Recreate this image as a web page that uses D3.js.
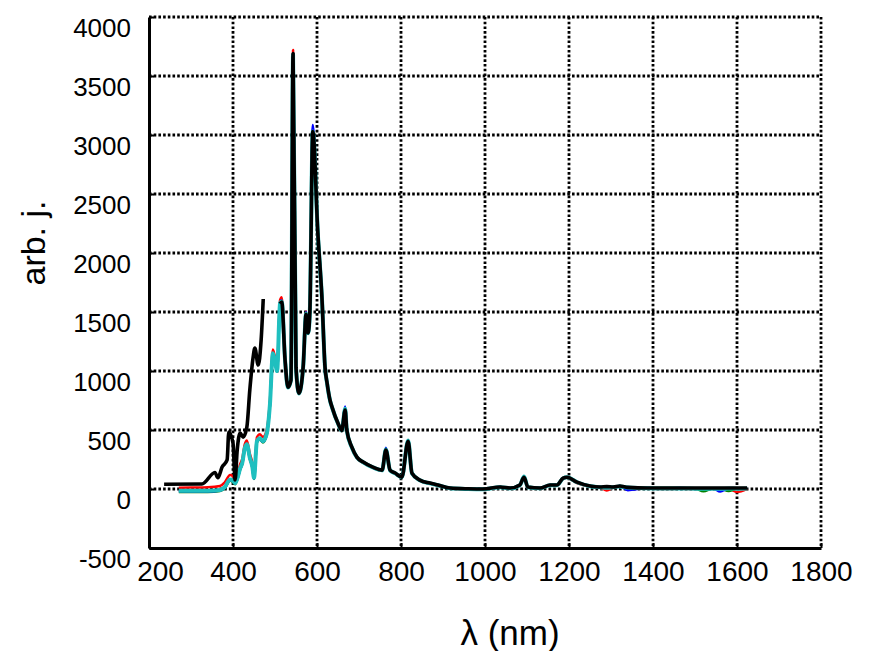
<!DOCTYPE html>
<html>
<head>
<meta charset="utf-8">
<script src="https://cdn.jsdelivr.net/npm/d3@7"></script>
<style>
  body { margin: 0; background: #fff; }
  text { font-family: "Liberation Sans", Arial, sans-serif; fill: #000; }
</style>
</head>
<body>
<svg width="869" height="651"></svg>
<script>
// wavelength grid (nm) shared by the four coloured spectra
const lamB = [271, 300, 340, 369, 380, 393, 400, 405, 412, 417,
              422, 428, 433, 440, 446, 450, 457, 464, 471, 480,
              488, 495, 500, 505, 512, 516, 524, 531, 538, 543,
              550, 557, 567, 574, 579, 583, 590, 602, 612, 619,
              624, 631, 636, 650, 659, 667, 671, 683, 695, 710,
              733, 755, 764, 774, 786, 802, 817, 826, 845, 869,
              888, 917, 960, 995, 1036, 1060, 1083, 1093, 1102, 1131,
              1155, 1171, 1186, 1195, 1219, 1250, 1274, 1290, 1305, 1321,
              1340, 1386, 1430, 1464, 1500, 1520, 1543, 1560, 1580, 1600,
              1624];

const redVals = [10, 12, 15, 25, 55, 118, 108, 85, 145, 210,
                 255, 378, 412, 300, 222, 130, 438, 465, 440, 498,
                 752, 1182, 1115, 1030, 1600, 1625, 1090, 860, 920, 3720,
                 1030, 810, 1030, 1505, 1320, 1510, 3050, 2165, 1600, 1030,
                 890, 745, 685, 550, 490, 675, 490, 348, 262, 222,
                 180, 155, 330, 155, 130, 98, 405, 130, 72, 46,
                 30, 5, -5, -5, 12, 5, 30, 100, 12, 5,
                 30, 30, 85, 95, 50, 20, 12, -12, 12, 20,
                 10, 5, 0, 2, 0, 0, 0, -2, 0, -25,
                 2];

const greenVals = [-25, -25, -25, -18, 5, 70, 60, 40, 100, 165,
                   210, 335, 370, 255, 180, 85, 395, 420, 395, 455,
                   710, 1140, 1080, 995, 1565, 1585, 1095, 865, 925, 3680,
                   1040, 815, 1035, 1480, 1325, 1505, 3020, 2200, 1620, 1045,
                   900, 755, 695, 560, 500, 685, 500, 356, 272, 230,
                   186, 161, 335, 161, 136, 102, 410, 136, 76, 50,
                   34, 8, 0, 0, 17, 8, 34, 105, 17, 8,
                   34, 34, 92, 100, 58, 25, 17, 17, 17, 25,
                   14, 8, 8, 8, 5, -20, 5, 5, -18, 5,
                   5];

const blueVals = [-18, -20, -20, -12, 10, 75, 65, 45, 105, 170,
                  215, 340, 375, 260, 185, 90, 400, 425, 400, 460,
                  715, 1145, 1082, 998, 1570, 1600, 1092, 862, 922, 3690,
                  1035, 812, 1032, 1500, 1322, 1510, 3085, 2170, 1605, 1038,
                  898, 752, 692, 557, 497, 700, 497, 354, 270, 228,
                  185, 160, 350, 160, 135, 101, 412, 135, 75, 50,
                  34, 8, 2, 0, 17, 8, 34, 104, 17, 8,
                  34, 34, 92, 100, 58, 25, 17, 17, 17, 25,
                  -10, 8, 6, 8, 6, 6, 6, -22, 6, 6,
                  6];

const cyanVals = [-15, -15, -14, -8, 15, 80, 70, 50, 110, 175,
                  220, 345, 380, 265, 190, 95, 405, 430, 405, 465,
                  720, 1150, 1085, 1000, 1575, 1590, 1090, 860, 920, 3680,
                  1030, 810, 1030, 1485, 1320, 1510, 3030, 2165, 1600, 1035,
                  895, 750, 690, 555, 495, 680, 495, 352, 268, 226,
                  183, 158, 335, 158, 133, 100, 410, 133, 74, 48,
                  32, 6, 0, -2, 15, 6, 32, 106, 15, 6,
                  32, 32, 90, 100, 57, 23, 15, 10, 15, 22,
                  12, 6, 4, 5, 3, 2, 3, 2, 4, 3,
                  5];

// black spectrum: UV part, then a gap (null), then the long part
const lamK = [236, 326, 357, 364, 374, 386, 390, 400, 405, 410,
              417, 424, 433, 440, 448, 452, 460, 467, 472, 492,
              512, 516, 524, 531, 538, 543, 550, 557, 567, 574,
              579, 583, 590, 602, 612, 619, 624, 631, 636, 650,
              659, 667, 671, 683, 695, 710, 733, 755, 764, 774,
              786, 802, 817, 826, 845, 869, 888, 917, 960, 995,
              1036, 1060, 1083, 1093, 1102, 1131, 1155, 1171, 1186, 1195,
              1219, 1250, 1274, 1290, 1305, 1321, 1340, 1386, 1430, 1464,
              1500, 1520, 1543, 1560, 1580, 1600, 1624];

const blackVals = [40, 42, 140, 95, 186, 246, 483, 390, 76, 330,
                   474, 440, 525, 839, 1119, 1195, 1051, 1263, 1610, null,
                   1570, 1585, 1090, 862, 922, 3690, 1032, 812, 1032, 1480,
                   1322, 1505, 3030, 2168, 1602, 1036, 898, 752, 692, 557,
                   497, 670, 497, 354, 270, 228, 185, 160, 330, 160,
                   135, 101, 405, 135, 75, 50, 34, 8, 2, 0,
                   17, 8, 34, 100, 17, 8, 34, 34, 92, 100,
                   58, 25, 17, 20, 17, 25, 14, 8, 8, 8,
                   8, 8, 8, 8, 8, 8, 8];

const xTicks = [200, 400, 600, 800, 1000, 1200, 1400, 1600, 1800];
const yTicks = [-500, 0, 500, 1000, 1500, 2000, 2500, 3000, 3500, 4000];

const svg = d3.select("svg");

const x = d3.scaleLinear().domain([200, 1800]).range([149, 821]);
const y = d3.scaleLinear().domain([-500, 4000]).range([548, 17]);

// dotted grid
const grid = svg.append("g");
grid.selectAll("line.gx")
    .data(xTicks.slice(1))
    .enter().append("line")
    .attr("x1", d => x(d)).attr("x2", d => x(d))
    .attr("y1", y(4000)).attr("y2", y(-500))
    .attr("stroke", "#000").attr("stroke-width", 2.8)
    .attr("stroke-dasharray", "2.6,2.1");
grid.selectAll("line.gy")
    .data(yTicks.slice(1))
    .enter().append("line")
    .attr("x1", x(200)).attr("x2", x(1800))
    .attr("y1", d => y(d)).attr("y2", d => y(d))
    .attr("stroke", "#000").attr("stroke-width", 2.8)
    .attr("stroke-dasharray", "2.6,2.1");

const series = [
  { lam: lamB, vals: redVals, color: "#ff0000", w: 2.5 },
  { lam: lamB, vals: greenVals, color: "#008000", w: 2.5 },
  { lam: lamB, vals: blueVals, color: "#0000ff", w: 2.5 },
  { lam: lamB, vals: cyanVals, color: "#1fbfbf", w: 4 },
  { lam: lamK, vals: blackVals, color: "#000000", w: 3.6 }
];

const line = d3.line()
    .defined(d => d[1] !== null)
    .curve(d3.curveMonotoneX)
    .x(d => x(d[0]))
    .y(d => y(d[1]));

svg.append("g").selectAll("path")
   .data(series)
   .enter().append("path")
   .attr("d", s => line(s.lam.map((l, i) => [l, s.vals[i]])))
   .attr("fill", "none")
   .attr("stroke", s => s.color)
   .attr("stroke-width", s => s.w)
   .attr("stroke-linejoin", "round");

// solid left & bottom axes
const xAxis = d3.axisBottom(x).tickValues(xTicks).tickFormat(d => String(d))
    .tickSizeInner(-5).tickSizeOuter(0).tickPadding(14);
const yAxis = d3.axisLeft(y).tickValues(yTicks).tickFormat(d => String(d))
    .tickSizeInner(-5).tickSizeOuter(0).tickPadding(18);

const gx = svg.append("g").attr("transform", `translate(0,${y(-500)})`).call(xAxis);
const gy = svg.append("g").attr("transform", `translate(${x(200)},0)`).call(yAxis);

[gx, gy].forEach(g => {
  g.select(".domain").attr("stroke", "#000").attr("stroke-width", 3);
  g.selectAll(".tick line").attr("stroke", "#000").attr("stroke-width", 2);
});
gx.selectAll("text").style("font-size", "28px").attr("dy", "0.68em")
  .attr("dx", d => d === 200 ? 11 : 0);
gy.selectAll("text").style("font-size", "26px").attr("dy", "0.76em");

svg.append("text")
   .attr("transform", `translate(45,243) rotate(-90)`)
   .attr("text-anchor", "middle")
   .style("font-size", "34px")
   .text("arb. j.");

svg.append("text")
   .attr("x", 510)
   .attr("y", 645)
   .attr("text-anchor", "middle")
   .style("font-size", "35px")
   .text("λ (nm)");
</script>
</body>
</html>
